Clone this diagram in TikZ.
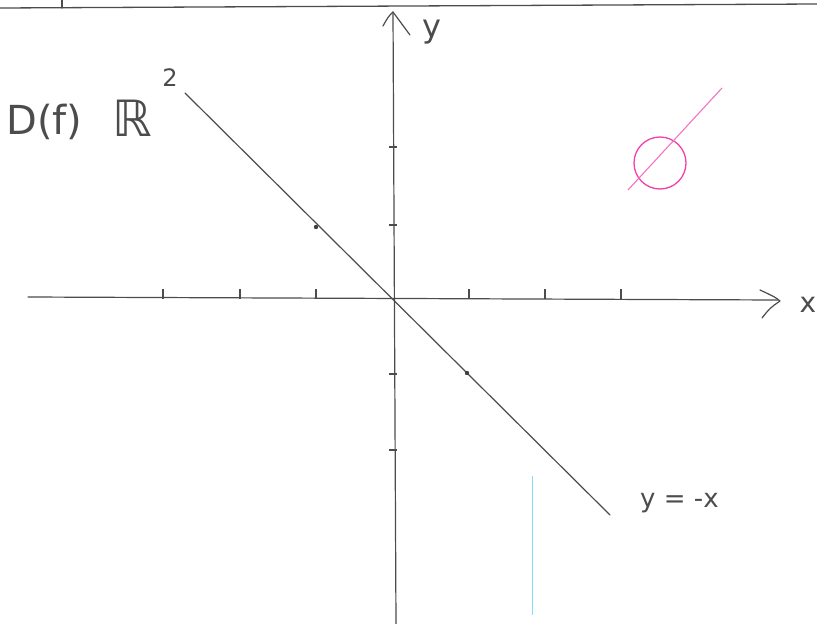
\documentclass[tikz,border=0pt]{standalone}
\usepackage{fontspec}
\setmainfont{DejaVu Sans}
\tikzset{
  pen/.style={draw=black!70, line width=1.2pt, line cap=round, line join=round},
  tickmark/.style={draw=black!70, line width=1.2pt},
  hand/.style={text=black!70, inner sep=0pt},
}
\begin{document}
\begin{tikzpicture}[x=1pt,y=-1pt]
\useasboundingbox (0,0) rectangle (817,624);
% top rule of the page
\coordinate (tl) at (0,8); \coordinate (tr) at (817,4);
\draw[pen, line width=1.3pt] (tl) -- (tr);
\coordinate (vt) at (62,0); \coordinate (vb) at (62,8);
\draw[pen] (vt) -- (vb);
% axes
\coordinate (xl) at (28,297); \coordinate (xr) at (778,300);
\draw[pen] (xl) -- (xr);
\coordinate (xa1) at (760,290); \coordinate (xa2) at (780,301); \coordinate (xa3) at (762,318);
\draw[pen] (xa1) .. controls (775,297) .. (xa2) .. controls (770,308) .. (xa3);
\node[hand, font=\fontsize{28}{28}\selectfont] (xlab) at (808,305) {x};
\coordinate (yt) at (393,12); \coordinate (yb) at (396,624);
\draw[pen] (yt) -- (yb);
\coordinate (ya1) at (383,26); \coordinate (ya3) at (410,35);
\draw[pen] (ya1) .. controls (388,17) .. (yt) -- (ya3);
\node[hand, font=\fontsize{32}{32}\selectfont] (ylab) at (432,32) {y};
% ticks on x axis
\foreach \t in {163,240,316,469,545,621}{
  \draw[tickmark] (\t,289) -- (\t,299);
}
% ticks on y axis
\foreach \t in {147,225,374,450}{
  \draw[tickmark] (389,\t) -- (397,\t);
}
% line y = -x
\coordinate (la) at (185,93); \coordinate (lb) at (610,515);
\draw[pen] (la) -- (lb);
\fill[black!75] (316,227) circle (2.2pt);
\fill[black!75] (467,373) circle (2.2pt);
% labels
\node[hand, font=\fontsize{40}{40}\selectfont, anchor=west] (dom) at (6,122) {D(f)};
\node[hand, font=\fontsize{50}{50}\selectfont, anchor=west] (rr) at (112,118) {ℝ};
\node[hand, font=\fontsize{24}{24}\selectfont] (sq) at (170,78) {2};
\node[hand, font=\fontsize{26}{26}\selectfont, anchor=west] (eq) at (640,503) {y = -x};
% pink empty set
\draw[magenta!75, line width=1.3pt] (660,163) circle (26pt);
\coordinate (sa) at (628,190); \coordinate (sb) at (722,88);
\draw[magenta!55, line width=1.1pt] (sa) -- (sb);
% cyan faint line
\coordinate (ca) at (532,476); \coordinate (cb) at (532,615);
\draw[cyan!45, line width=1pt] (ca) -- (cb);
\end{tikzpicture}
\end{document}
